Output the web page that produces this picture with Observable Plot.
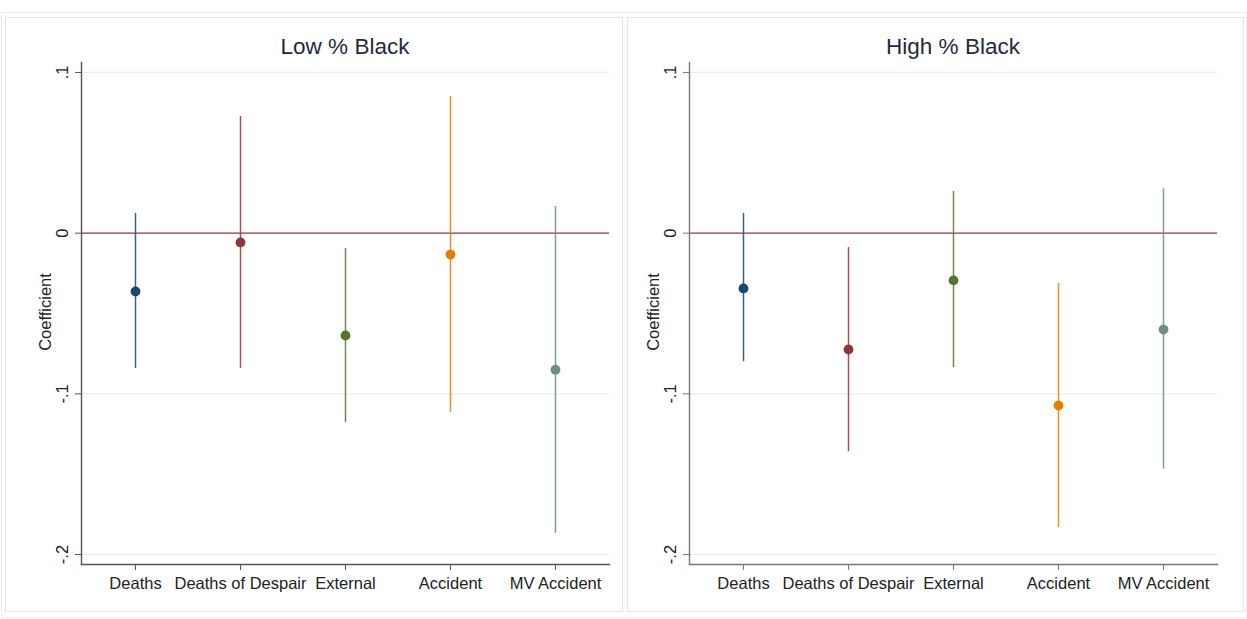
<!DOCTYPE html>
<html><head><meta charset="utf-8">
<script src="https://cdn.jsdelivr.net/npm/d3@7"></script>
<script src="https://cdn.jsdelivr.net/npm/@observablehq/plot@0.6"></script>
<style>
body{margin:0;background:#fff;font-family:"Liberation Sans",Arial,sans-serif;}
#root{position:relative;width:1247px;height:619px;overflow:hidden;background:#fff;}
.outer{position:absolute;left:1px;top:12px;width:1244px;height:604px;border:1px solid #ececec;}
.panel{position:absolute;border:1px solid #e4e4e4;background:#fff;}
.title{position:absolute;font-size:22.5px;color:#1f2a3a;text-align:center;width:400px;line-height:26px;}
.ylab{position:absolute;font-size:16.5px;color:#222;width:140px;text-align:center;line-height:18px;transform:rotate(-90deg);}
.plot{position:absolute;top:0;}
</style></head><body><div id="root"></div>
<script>
const categories = ["Deaths", "Deaths of Despair", "External", "Accident", "MV Accident"];
const colors = ["#1a476f", "#90353b", "#55752f", "#e37e00", "#6e8e84"];
const panelTitles = ["Low % Black", "High % Black"];
const yTicks = [0.1, 0, -0.1, -0.2];
const yTickLabels = [".1", "0", "-.1", "-.2"];
const yLabel = "Coefficient";

// Low % Black
const lowCoef = [-0.0363, -0.0058, -0.0637, -0.0133, -0.0850];
const lowLo   = [-0.0842, -0.0842, -0.1178, -0.1116, -0.1869];
const lowHi   = [ 0.0123,  0.0726, -0.0095,  0.0851,  0.0166];
// High % Black
const highCoef = [-0.0344, -0.0724, -0.0294, -0.1073, -0.0600];
const highLo   = [-0.0800, -0.1360, -0.0836, -0.1832, -0.1470];
const highHi   = [ 0.0123, -0.0090,  0.0260, -0.0313,  0.0277];

const root = document.getElementById("root");
const outer = document.createElement("div"); outer.className = "outer"; root.appendChild(outer);

function buildRows(coef, lo, hi) {
  return categories.map((c, i) => ({cat: c, coef: coef[i], lo: lo[i], hi: hi[i]}));
}
const panels = [
  {rows: buildRows(lowCoef, lowLo, lowHi), title: panelTitles[0], svgLeft: 0, box: [5, 17, 616, 593], axis: "#555"},
  {rows: buildRows(highCoef, highLo, highHi), title: panelTitles[1], svgLeft: 608, box: [627, 17, 615, 593], axis: "#777"}
];

panels.forEach(p => {
  const box = document.createElement("div");
  box.className = "panel";
  box.style.left = p.box[0] + "px"; box.style.top = p.box[1] + "px";
  box.style.width = p.box[2] + "px"; box.style.height = p.box[3] + "px";
  root.appendChild(box);

  const chart = Plot.plot({
    width: 623, height: 619,
    marginLeft: 81, marginRight: 14, marginTop: 62, marginBottom: 55,
    style: {fontFamily: "'Liberation Sans', Arial, sans-serif", fontSize: "16.5px", color: "#222", background: "transparent"},
    x: {type: "point", domain: categories, padding: 0.5},
    y: {domain: [-0.2062, 0.1062]},
    color: {domain: categories, range: colors},
    marks: [
      Plot.ruleY(yTicks.filter(d => d !== 0), {stroke: "#ebebeb", strokeWidth: 1.2}),
      Plot.ruleY([0], {stroke: "#90353b", strokeWidth: 1.4}),
      Plot.ruleX(p.rows, {x: "cat", y1: "lo", y2: "hi", stroke: "cat", strokeWidth: 1.5, strokeOpacity: 0.85}),
      Plot.dot(p.rows, {x: "cat", y: "coef", fill: "cat", r: 4.9}),
      Plot.axisX({tickSize: 6, tickPadding: 7, label: null, stroke: p.axis}),
      Plot.axisY({ticks: yTicks, tickFormat: d => yTickLabels[yTicks.indexOf(d)], tickRotate: -90, tickSize: 6, tickPadding: 8, label: null, stroke: p.axis}),
      Plot.frame({anchor: "left", stroke: p.axis, strokeWidth: 1.4}),
      Plot.frame({anchor: "bottom", stroke: p.axis, strokeWidth: 1.4})
    ]
  });
  chart.classList.add("plot");
  chart.style.left = p.svgLeft + "px";
  root.appendChild(chart);

  const t = document.createElement("div");
  t.className = "title"; t.textContent = p.title;
  t.style.left = (p.svgLeft + 345 - 200) + "px"; t.style.top = "34px";
  root.appendChild(t);

  const yl = document.createElement("div");
  yl.className = "ylab"; yl.textContent = yLabel;
  yl.style.left = (p.svgLeft + 45 - 70) + "px"; yl.style.top = (312 - 9) + "px";
  root.appendChild(yl);
});
</script></body></html>
